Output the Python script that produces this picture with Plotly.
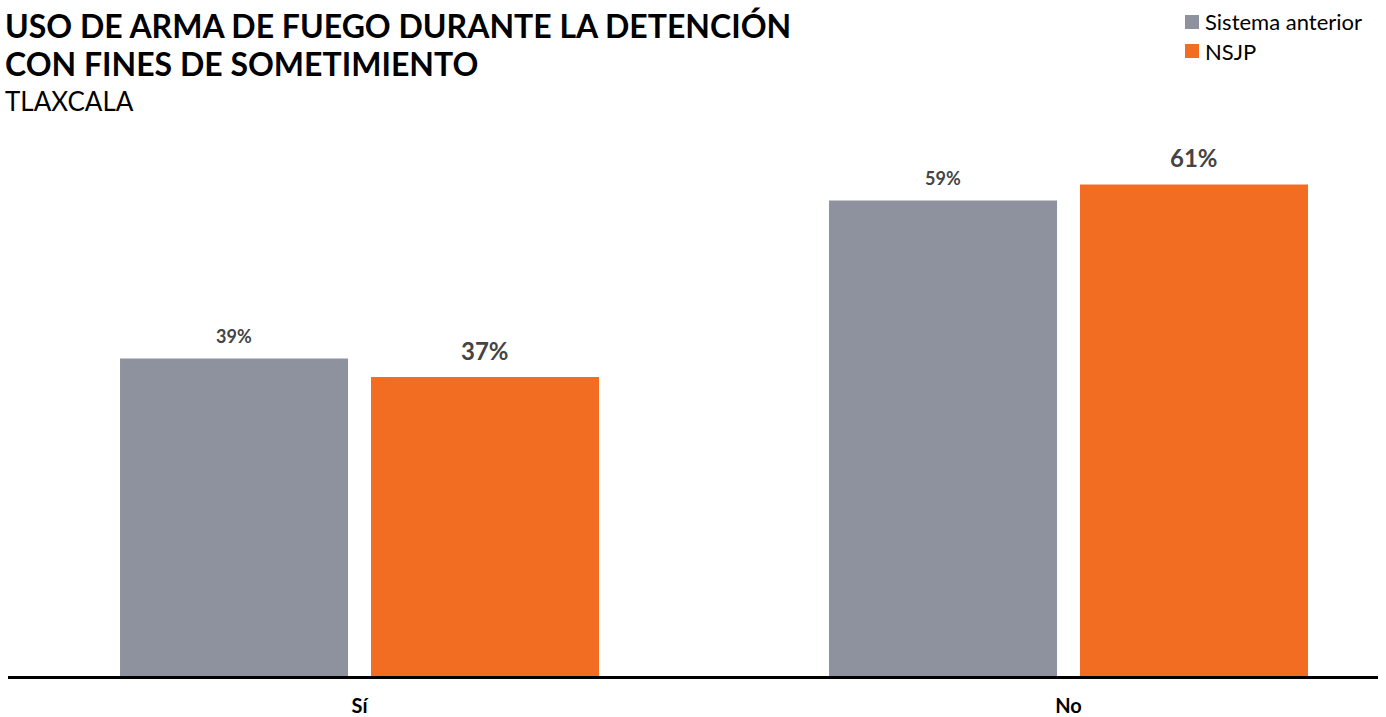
import plotly.graph_objects as go

categories = ["Sí", "No"]
series_names = ["Sistema anterior", "NSJP"]
sistema_anterior = [39.4, 59.0]
nsjp = [37.1, 61.0]
label_sistema = ["39%", "59%"]
label_nsjp = ["37%", "61%"]
title_lines = ["USO DE ARMA DE FUEGO DURANTE LA DETENCIÓN", "CON FINES DE SOMETIMIENTO"]
subtitle = "TLAXCALA"

colors = ["#8E929E", "#F26C22"]
FONT = "Lato, 'Open Sans', sans-serif"

fig = go.Figure()
bar_w = 0.3216
offsets = [-0.3378, 0.0162]
for name, vals, col, off in zip(series_names, [sistema_anterior, nsjp], colors, offsets):
    fig.add_trace(go.Bar(
        x=categories, y=vals, name=name, marker=dict(color=col, line=dict(width=0)),
        width=bar_w, offset=off, hoverinfo="skip", showlegend=False,
    ))

# value labels
for vals, labels, off, size, shift in [
    (sistema_anterior, label_sistema, offsets[0], 18, 10),
    (nsjp, label_nsjp, offsets[1], 24, 10),
]:
    for i, (v, t) in enumerate(zip(vals, labels)):
        fig.add_annotation(
            x=i + off + bar_w / 2, y=v, xref="x", yref="y", text=f"<b>{t}</b>",
            showarrow=False, yanchor="bottom", yshift=shift,
            font=dict(family=FONT, size=size, color="#444444"),
        )

# custom legend (top right)
for k, (name, col) in enumerate(zip(series_names, colors)):
    top = 15 + 29 * k
    fig.add_shape(
        type="rect", xref="paper", yref="paper",
        x0=(1185 - 8) / 1370, x1=(1199 - 8) / 1370,
        y0=(676 - top) / 556, y1=(676 - top - 14) / 556,
        fillcolor=col, line=dict(width=0),
    )
    fig.add_annotation(
        xref="paper", yref="paper", x=(1203 - 8) / 1370, y=(676 - top - 7) / 556,
        xanchor="left", yanchor="middle", showarrow=False, text=name,
        font=dict(family=FONT, size=22, color="#000000"),
    )

for line, ys in zip(title_lines, [95, 57]):
    fig.add_annotation(
        xref="paper", yref="paper", x=0, y=1, xanchor="left", yanchor="middle",
        xshift=-5, yshift=ys, align="left", showarrow=False,
        text=f"<b>{line}</b>",
        font=dict(family=FONT, size=32, color="#000000"),
    )
fig.add_annotation(
    xref="paper", yref="paper", x=0, y=1, xanchor="left", yanchor="middle",
    xshift=-5, yshift=19, align="left", showarrow=False,
    text=subtitle,
    font=dict(family=FONT, size=26, color="#000000"),
)

fig.update_layout(
    width=1386, height=717,
    margin=dict(l=8, r=8, t=120, b=41),
    paper_bgcolor="white", plot_bgcolor="white",
    barmode="group",
    showlegend=False,
    xaxis=dict(
        type="category", range=[-0.4958, 1.4365], automargin=False,
        showline=True, linecolor="#000000", linewidth=2.5,
        ticks="", showgrid=False, zeroline=False,
        tickfont=dict(family=FONT, size=20, color="#000000"),
        ticklabelstandoff=10,
    ),
    yaxis=dict(
        range=[0, 69], visible=False, showgrid=False, zeroline=False, automargin=False,
    ),
)
fig.update_xaxes(tickvals=categories, ticktext=[f"<b>{c}</b>" for c in categories])

fig.write_html(
    "out.html",
    config={"displayModeBar": False},
    post_script="document.body.style.margin='0';document.body.style.padding='0';",
)
